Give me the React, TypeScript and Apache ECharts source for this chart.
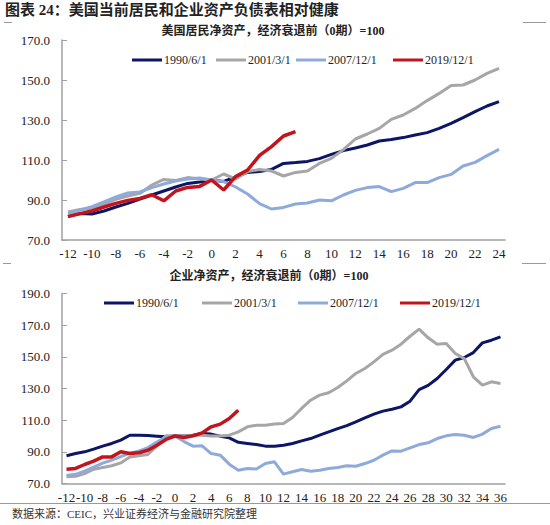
import React, { useEffect, useRef } from "react";
import * as echarts from "echarts";

const topCategories = ["-12","-11","-10","-9","-8","-7","-6","-5","-4","-3","-2","-1","0","1","2","3","4","5","6","7","8","9","10","11","12","13","14","15","16","17","18","19","20","21","22","23","24"];
const bottomCategories = ["-12","-11","-10","-9","-8","-7","-6","-5","-4","-3","-2","-1","0","1","2","3","4","5","6","7","8","9","10","11","12","13","14","15","16","17","18","19","20","21","22","23","24","25","26","27","28","29","30","31","32","33","34","35","36"];

const seriesNames = ["1990/6/1", "2001/3/1", "2007/12/1", "2019/12/1"];

// 美国居民净资产
const household1990 = [81.8,83.2,83,84.5,86.5,88.3,90.5,92.5,94.5,96.5,98.3,99,100,99.3,101.5,103.8,104.2,105.3,108.3,108.7,109.3,110.7,112.8,114.7,116,117.5,119.5,120.3,121.2,122.5,123.7,125.8,128.3,131.2,134.2,137,139.2];
const household2001 = [84,85.3,85.8,88,90.3,92,93.3,97.5,100.3,99.8,101.2,100.5,100,103,100.5,104.2,105.3,104.5,102,103.8,104.5,108.3,110.8,115.2,120.5,123,125.8,130.3,132.5,135.8,139.7,143.3,147.2,147.5,150,153.3,155.8];
const household2007 = [83,85,86.7,89,91.5,93.5,94,96.2,98,99.5,100.5,101,100,99.2,96.5,93,88.2,85.5,86.3,88,88.5,90,89.6,92.5,94.8,96.2,96.7,94.2,95.8,98.7,98.7,101.2,102.8,107,108.8,112.2,115.3];
const household2019 = [81.7,83.2,84.5,86.5,88.3,89.8,90.8,92.6,89.6,94.5,96.3,96.8,100,95,101.7,105,112.3,116.7,122,124.2];

// 企业净资产
const corporate1990 = [87.5,88.9,90,91.7,93.6,95.3,97.4,100.5,100.5,100.3,99.9,99.5,100,100,100.5,101.6,101.2,99.9,98.8,96,95.3,94.6,93.6,93.6,94.2,95.3,96.9,98.4,100.5,102.6,104.7,106.6,108.9,111.5,113.8,115.7,116.9,118.4,122,129.3,132,136.3,142,147.9,149.6,152.7,158.8,160.5,162.6];
const corporate2001 = [74.2,74.6,76.3,79,80.1,81.2,83,86.8,87.5,88.3,93.8,100.1,100,100,100.5,100.5,100,100,100.5,102.6,105.8,106.8,106.8,107.6,107.9,111.7,117.4,122.6,125.8,127.3,130.6,134.8,139.5,142.6,146.8,151.5,154.2,158,163,167.5,162,158,158.4,152.1,148.9,137.4,132.1,134.2,133.2];
const corporate2007 = [75,75.8,77.8,80.3,82.9,84.8,87,89.2,90.5,92.7,96.2,99.5,100,96.5,93.6,93.8,88.9,87.9,82.2,78.4,79.5,79.1,82.6,83.7,75.9,77.4,78.8,77.8,78.4,79.5,80.1,81.2,80.9,82.6,84.7,87.9,90.6,90.4,92.5,94.6,95.7,98.4,100.1,100.9,100.5,99.1,101.2,104.7,106.2];
const corporate2019 = [79,79.5,82,84.1,86.8,86.8,90,88.9,89.4,91,94.2,97.8,100,99,100.1,102,105.8,107.5,111,116.3];

const colors = ["#0c1566", "#a6a6a6", "#8eaadb", "#c2141c"];
const FONT = "'Liberation Serif', 'Noto Sans CJK SC', serif";
const CJK = "'Liberation Serif', 'Noto Sans CJK SC', sans-serif";

export default function App() {
  const ref = useRef<HTMLDivElement>(null);

  useEffect(() => {
    if (!ref.current) return;
    const chart = echarts.init(ref.current, null, { renderer: "svg" });

    const xAxisBase = (cats: string[], gridIndex: number) => ({
      type: "category",
      gridIndex,
      data: cats,
      boundaryGap: true,
      axisLine: { lineStyle: { color: "#a0a0a0", width: 1.5 } },
      axisTick: { inside: true, length: 5, interval: 0, lineStyle: { color: "#a0a0a0" } },
      axisLabel: { interval: 1, color: "#222", fontFamily: FONT, fontSize: 13, margin: 7 },
      splitLine: { show: false },
    });
    const yAxisBase = (min: number, max: number, gridIndex: number) => ({
      type: "value",
      gridIndex,
      min,
      max,
      interval: 20,
      axisLine: { show: true, lineStyle: { color: "#a0a0a0", width: 1.5 } },
      axisTick: { show: true, inside: true, length: 5, lineStyle: { color: "#a0a0a0" } },
      axisLabel: {
        color: "#222",
        fontFamily: FONT,
        fontSize: 13,
        margin: 12,
        formatter: (v: number) => v.toFixed(1),
      },
      splitLine: { show: false },
    });

    const mk = (name: string, data: number[], idx: number, color: string, width: number) => ({
      name,
      type: "line",
      xAxisIndex: idx,
      yAxisIndex: idx,
      data,
      showSymbol: false,
      symbol: "none",
      lineStyle: { color, width },
      itemStyle: { color },
      z: name === "2019/12/1" ? 5 : 3,
    });

    const legendItem = (name: string, left: number, top: number, color: string) => ({
      data: [{ name, itemStyle: { color } }],
      left,
      top,
      padding: 0,
      icon: "rect",
      itemWidth: 30,
      itemHeight: 3,
      itemGap: 0,
      textStyle: { fontFamily: FONT, fontSize: 12, color: "#222", padding: [0, 0, 0, -3] },
      selectedMode: false,
    });

    const topLegendX = [132, 216, 296, 393];
    const botLegendX = [104, 202, 298, 400];

    chart.setOption({
      animation: false,
      backgroundColor: "#ffffff",
      grid: [
        { left: 62, right: 45, top: 40, height: 200 },
        { left: 62, right: 45, top: 293.5, height: 190 },
      ],
      title: [
        {
          text: "美国居民净资产，经济衰退前（0期）=100",
          left: 268,
          textAlign: "center",
          top: 20,
          textStyle: { fontFamily: CJK, fontSize: 12, fontWeight: "bold", color: "#222" },
        },
        {
          text: "企业净资产，经济衰退前（0期）=100",
          left: 264,
          textAlign: "center",
          top: 265,
          textStyle: { fontFamily: CJK, fontSize: 12, fontWeight: "bold", color: "#222" },
        },
      ],
      legend: [
        ...seriesNames.map((n, i) => legendItem(n, topLegendX[i], 54, colors[i])),
        ...seriesNames.map((n, i) => legendItem(n, botLegendX[i], 297, colors[i])),
      ],
      xAxis: [xAxisBase(topCategories, 0), xAxisBase(bottomCategories, 1)],
      yAxis: [yAxisBase(70, 170, 0), yAxisBase(70, 190, 1)],
      series: [
        mk(seriesNames[0], household1990, 0, colors[0], 3),
        mk(seriesNames[1], household2001, 0, colors[1], 3),
        mk(seriesNames[2], household2007, 0, colors[2], 3),
        mk(seriesNames[3], household2019, 0, colors[3], 3.5),
        mk(seriesNames[0], corporate1990, 1, colors[0], 3),
        mk(seriesNames[1], corporate2001, 1, colors[1], 3),
        mk(seriesNames[2], corporate2007, 1, colors[2], 3),
        mk(seriesNames[3], corporate2019, 1, colors[3], 3.5),
      ],
      graphic: [
        {
          type: "text",
          left: 5,
          top: 2,
          style: {
            text: "图表 24：美国当前居民和企业资产负债表相对健康",
            font: `bold 15px ${CJK}`,
            fill: "#222",
          },
        },
        { type: "line", shape: { x1: 4, y1: 22.5, x2: 12, y2: 22.5 }, style: { stroke: "#999", lineWidth: 1 } },
        { type: "line", shape: { x1: 523, y1: 22.5, x2: 546, y2: 22.5 }, style: { stroke: "#999", lineWidth: 1 } },
        { type: "line", shape: { x1: 3, y1: 263.5, x2: 11, y2: 263.5 }, style: { stroke: "#999", lineWidth: 1 } },
        { type: "line", shape: { x1: 522, y1: 263.5, x2: 546, y2: 263.5 }, style: { stroke: "#999", lineWidth: 1 } },
        { type: "line", shape: { x1: 0, y1: 503.5, x2: 550, y2: 503.5 }, style: { stroke: "#999", lineWidth: 1 } },
        {
          type: "text",
          left: 12,
          top: 508,
          style: {
            text: "数据来源：CEIC，兴业证券经济与金融研究院整理",
            font: `11px ${CJK}`,
            fill: "#333",
          },
        },
      ],
    });

    return () => chart.dispose();
  }, []);

  return (
    <div
      ref={ref}
      style={{ position: "absolute", left: 0, top: 0, width: 550, height: 525, background: "#fff" }}
    />
  );
}
